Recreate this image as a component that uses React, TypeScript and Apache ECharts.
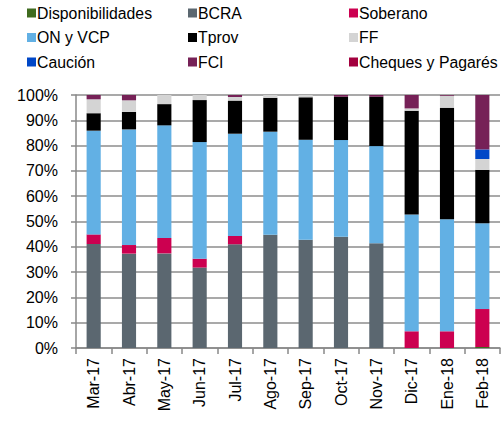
import React, { useEffect, useRef } from "react";
import * as echarts from "echarts";

const categories = ["Mar-17", "Abr-17", "May-17", "Jun-17", "Jul-17", "Ago-17", "Sep-17", "Oct-17", "Nov-17", "Dic-17", "Ene-18", "Feb-18"];

const disponibilidades = [0, 0, 0, 0, 0, 0, 0, 0, 0, 0, 0, 0.4];
const bcra = [41.1, 37.3, 37.4, 31.8, 41.0, 44.8, 42.8, 44.0, 41.4, 0, 0, 0];
const soberano = [3.8, 3.4, 6.1, 3.5, 3.3, 0, 0, 0, 0, 6.6, 6.6, 15.0];
const onVcp = [41.0, 45.7, 44.5, 46.1, 40.4, 40.7, 39.5, 38.2, 38.4, 46.2, 44.3, 33.9];
const tprov = [6.9, 6.9, 8.4, 16.6, 13.1, 13.4, 16.8, 17.1, 19.5, 41.0, 44.1, 21.1];
const ff = [5.5, 4.6, 3.6, 2.0, 1.4, 1.1, 0.9, 0, 0, 0.9, 4.7, 4.3];
const caucion = [0, 0, 0, 0, 0, 0, 0, 0, 0, 0, 0, 3.8];
const fci = [1.7, 2.1, 0, 0, 0.8, 0, 0, 0.7, 0.7, 5.3, 0.3, 21.5];
const cheques = [0, 0, 0, 0, 0, 0, 0, 0, 0, 0, 0, 0];

const seriesDefs = [
  { name: "Disponibilidades", data: disponibilidades, color: "#3f6b1f" },
  { name: "BCRA", data: bcra, color: "#5b6770" },
  { name: "Soberano", data: soberano, color: "#cc0050" },
  { name: "ON y VCP", data: onVcp, color: "#62b0e4" },
  { name: "Tprov", data: tprov, color: "#000000" },
  { name: "FF", data: ff, color: "#d4d4d4" },
  { name: "Caución", data: caucion, color: "#0047c7" },
  { name: "FCI", data: fci, color: "#762157" },
  { name: "Cheques y Pagarés", data: cheques, color: "#a3003e" },
];

const yTicks = [0, 10, 20, 30, 40, 50, 60, 70, 80, 90, 100];

export default function App() {
  const ref = useRef<HTMLDivElement>(null);
  useEffect(() => {
    if (!ref.current) return;
    const chart = echarts.init(ref.current, undefined, { renderer: "svg" });
    const font = "Liberation Sans, Arial, sans-serif";
    const legendBase = {
      orient: "vertical" as const,
      top: 0,
      itemWidth: 9,
      itemHeight: 9,
      itemGap: 8.5,
      icon: "rect",
      selectedMode: false,
      textStyle: { fontFamily: font, fontSize: 15.8, color: "#000", lineHeight: 16, padding: [0, 0, 0, -4] },
    };
    chart.setOption({
      animation: false,
      color: seriesDefs.map((s) => s.color),
      legend: [
        { ...legendBase, left: 22, data: ["Disponibilidades", "ON y VCP", "Caución"] },
        { ...legendBase, left: 183, data: ["BCRA", "Tprov", "FCI"] },
        { ...legendBase, left: 344, data: ["Soberano", "FF", "Cheques y Pagarés"] },
      ],
      grid: { left: 76, right: 3, top: 95, bottom: 75, containLabel: false },
      xAxis: {
        type: "category",
        data: categories,
        axisLine: { lineStyle: { color: "#888", width: 1.5 } },
        axisTick: { show: true, length: 6, lineStyle: { color: "#888", width: 1.5 } },
        axisLabel: { rotate: 90, fontFamily: font, fontSize: 16, color: "#000", margin: 10 },
      },
      yAxis: {
        type: "value",
        min: 0,
        max: 100,
        interval: 10,
        axisLine: { show: true, lineStyle: { color: "#888", width: 1.5 } },
        axisTick: { show: true, length: 5, lineStyle: { color: "#888", width: 1.5 } },
        splitLine: { lineStyle: { color: "#8c8c8c", width: 1.5 } },
        axisLabel: {
          fontFamily: font,
          fontSize: 16,
          color: "#000",
          margin: 18,
          formatter: (v: number) => (yTicks.includes(v) ? v + "%" : ""),
        },
      },
      series: seriesDefs.map((s) => ({
        name: s.name,
        type: "bar",
        stack: "total",
        data: s.data,
        barWidth: "40%",
        itemStyle: { color: s.color },
      })),
    });
    return () => chart.dispose();
  }, []);
  return <div ref={ref} style={{ width: 503, height: 423, position: "absolute", left: 0, top: 0 }} />;
}
